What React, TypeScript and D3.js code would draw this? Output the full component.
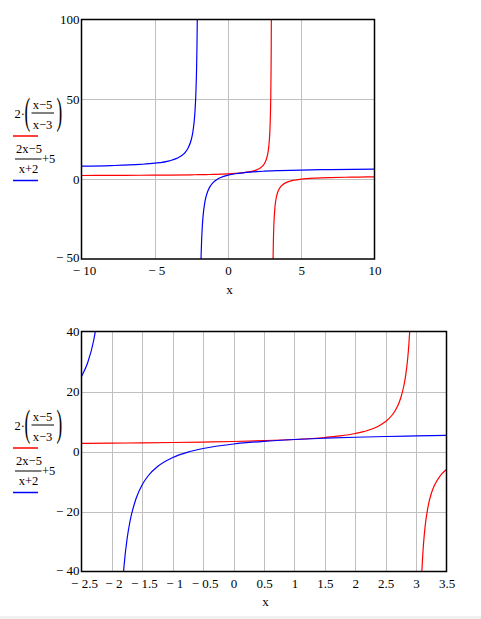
import React from 'react';
import * as d3 from 'd3';

// values
// red trace: 2·((x−5)/(x−3)), split at its pole x = 3
const redLeftX = [-10, -8, -6, -4, -2.5, -2, -1.5, -1, -0.5, 0, 0.5, 1, 1.5, 1.75, 2, 2.2, 2.4, 2.5, 2.6, 2.65, 2.7, 2.75, 2.8, 2.83, 2.86, 2.88, 2.9, 2.92, 2.94, 2.95, 2.96, 2.97];
const redLeftY = [2.31, 2.36, 2.44, 2.57, 2.73, 2.8, 2.89, 3, 3.14, 3.33, 3.6, 4, 4.67, 5.2, 6, 7, 8.67, 10, 12, 13.43, 15.33, 18, 22, 25.53, 30.57, 35.33, 42, 52, 68.67, 82, 102, 135.3];
const redRightX = [3.03, 3.05, 3.07, 3.08, 3.1, 3.12, 3.15, 3.2, 3.25, 3.3, 3.4, 3.5, 3.75, 4, 4.5, 5, 6, 7, 8, 9, 10];
const redRightY = [-131.3, -78, -55.14, -48, -38, -31.33, -24.67, -18, -14, -11.33, -8, -6, -3.33, -2, -0.67, 0, 0.67, 1, 1.2, 1.33, 1.43];

// blue trace: (2x−5)/(x+2)+5, split at its pole x = −2
const blueLeftX = [-10, -8, -6, -5, -4, -3.5, -3, -2.75, -2.5, -2.4, -2.3, -2.25, -2.2, -2.15, -2.12, -2.1, -2.09, -2.07];
const blueLeftY = [8.13, 8.5, 9.25, 10, 11.5, 13, 16, 19, 25, 29.5, 37, 43, 52, 67, 82, 97, 107, 135.6];
const blueRightX = [-1.93, -1.9, -1.86, -1.84, -1.8, -1.75, -1.7, -1.6, -1.5, -1.4, -1.25, -1, -0.75, -0.5, 0, 0.5, 1, 1.5, 2, 2.5, 3, 3.5, 5, 7, 10];
const blueRightY = [-121.6, -83, -57.29, -49.25, -38, -29, -23, -15.5, -11, -8, -5, -2, -0.2, 1, 2.5, 3.4, 4, 4.43, 4.75, 5, 5.2, 5.36, 5.71, 6, 6.25];

// axes
const topXDomain = [-10, 10];
const topYDomain = [-50, 100];
const topXTicks = [-10, -5, 0, 5, 10];
const topYTicks = [-50, 0, 50, 100];

const bottomXDomain = [-2.5, 3.5];
const bottomYDomain = [-40, 40];
const bottomXTicks = [-2.5, -2, -1.5, -1, -0.5, 0, 0.5, 1, 1.5, 2, 2.5, 3, 3.5];
const bottomYTicks = [-40, -20, 0, 20, 40];

const axisLabel = 'x';

type Pt = [number, number];
const zip = (xs: number[], ys: number[]): Pt[] => xs.map((x, i) => [x, ys[i]]);

const traces = [
  { color: '#ff0000', pts: zip(redLeftX, redLeftY) },
  { color: '#ff0000', pts: zip(redRightX, redRightY) },
  { color: '#0000ff', pts: zip(blueLeftX, blueLeftY) },
  { color: '#0000ff', pts: zip(blueRightX, blueRightY) },
];

const fmt = (v: number) => (v < 0 ? '\u2212 ' + Math.abs(v) : String(v));
const serif = "'Liberation Serif', 'DejaVu Serif', Tinos, 'Times New Roman', serif";

interface PanelProps {
  id: string;
  left: number;
  top: number;
  width: number;
  height: number;
  xDomain: number[];
  yDomain: number[];
  xTicks: number[];
  yTicks: number[];
}

const Legend: React.FC<{ top: number }> = ({ top }) => (
  <g style={{ fontFamily: serif, fontSize: '12.5px' }} fill="#000">
    <text x={14.5} y={top + 98}>2·</text>
    <text transform={`translate(24.5,${top + 104.5}) scale(0.45,1)`} style={{ fontSize: '38px' }}>(</text>
    <text x={42.5} y={top + 89.5} textAnchor="middle">x−5</text>
    <line x1={31.5} x2={54} y1={top + 93.5} y2={top + 93.5} stroke="#000" />
    <text x={42.5} y={top + 109.5} textAnchor="middle">x−3</text>
    <text transform={`translate(56.5,${top + 104.5}) scale(0.45,1)`} style={{ fontSize: '38px' }}>)</text>
    <line x1={13} x2={38} y1={top + 116.5} y2={top + 116.5} stroke="#ff0000" strokeWidth={1.5} />
    <text x={29} y={top + 133} textAnchor="middle">2x−5</text>
    <line x1={15} x2={41.5} y1={top + 139.5} y2={top + 139.5} stroke="#000" />
    <text x={42} y={top + 143}>+5</text>
    <text x={28.5} y={top + 153.5} textAnchor="middle">x+2</text>
    <line x1={13} x2={38} y1={top + 161} y2={top + 161} stroke="#0000ff" strokeWidth={1.5} />
  </g>
);

const Panel: React.FC<PanelProps> = ({ id, left, top, width, height, xDomain, yDomain, xTicks, yTicks }) => {
  const x = d3.scaleLinear().domain(xDomain).range([left, left + width]);
  const y = d3.scaleLinear().domain(yDomain).range([top + height, top]);
  const line = d3
    .line<Pt>()
    .x(d => x(d[0]))
    .y(d => y(d[1]))
    .curve(d3.curveMonotoneX);

  const innerX = xTicks.slice(1, -1);
  const innerY = yTicks.slice(1, -1);

  return (
    <g>
      <defs>
        <clipPath id={id}>
          <rect x={left} y={top} width={width} height={height} />
        </clipPath>
      </defs>
      {/* grid */}
      {innerX.map(t => (
        <line key={'gx' + t} x1={Math.round(x(t)) + 0.5} x2={Math.round(x(t)) + 0.5} y1={top} y2={top + height} stroke="#c0c0c0" />
      ))}
      {innerY.map(t => (
        <line key={'gy' + t} x1={left} x2={left + width} y1={Math.round(y(t)) + 0.5} y2={Math.round(y(t)) + 0.5} stroke="#c0c0c0" />
      ))}
      {/* curves */}
      <g clipPath={`url(#${id})`}>
        {traces.map((tr, i) => (
          <path key={i} d={line(tr.pts) || ''} fill="none" stroke={tr.color} strokeWidth={1.2} />
        ))}
      </g>
      <rect x={left} y={top} width={width} height={height} fill="none" stroke="#000" strokeWidth={1.5} />
      {/* tick labels */}
      <g style={{ fontFamily: serif, fontSize: '13px' }} fill="#000">
        {xTicks.map((t, i) => (
          <text key={'tx' + t} x={x(t) + (i === 0 ? 3 : t < 0 ? 2 : 0.5)} y={top + height + 16}
            textAnchor="middle">
            {fmt(t)}
          </text>
        ))}
        {yTicks.map((t, i) => (
          <text key={'ty' + t} x={left - 2} y={y(t) + (i === 0 ? 3 : 4.5)} textAnchor="end">
            {fmt(t)}
          </text>
        ))}
        <text x={left + width / 2 + 1.5} y={top + height + 34.5} textAnchor="middle">
          {axisLabel}
        </text>
      </g>
      <Legend top={top} />
    </g>
  );
};

const App: React.FC = () => (
  <svg
    width={481}
    height={619}
    style={{ position: 'absolute', left: 0, top: 0, background: '#fff' }}
  >
    <rect x={0} y={0} width={481} height={619} fill="#fff" />
    <Panel id="clipTop" left={81.5} top={19.5} width={293} height={239.5}
      xDomain={topXDomain} yDomain={topYDomain} xTicks={topXTicks} yTicks={topYTicks} />
    <Panel id="clipBottom" left={81.5} top={331.5} width={365} height={240}
      xDomain={bottomXDomain} yDomain={bottomYDomain} xTicks={bottomXTicks} yTicks={bottomYTicks} />
    <rect x={0} y={616} width={481} height={3} fill="#f0f0f0" />
  </svg>
);

export default App;
